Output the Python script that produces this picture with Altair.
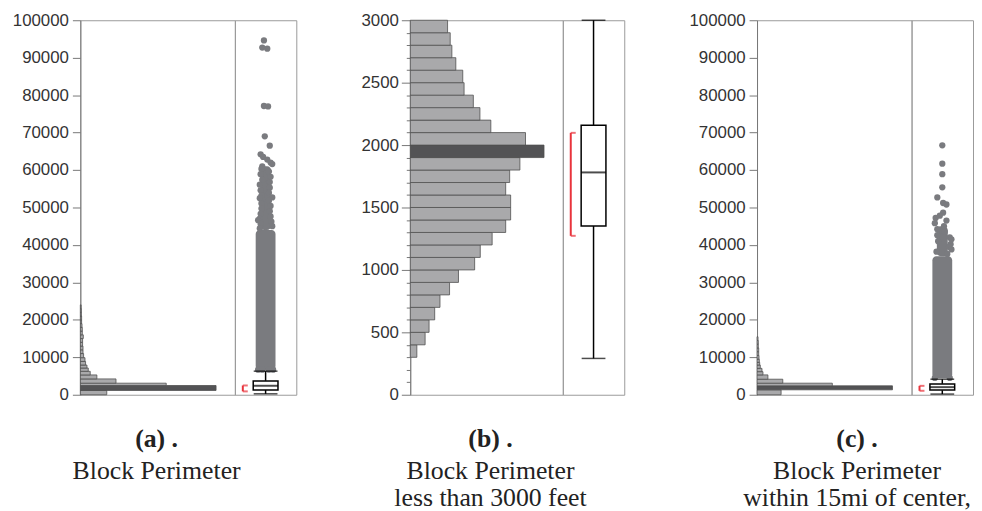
import altair as alt
import pandas as pd

# ---------------- data ----------------
# Panel (a): all blocks, histogram bins (feet) and bar lengths (relative counts)
a_lo = [0, 1150, 2470, 3090, 4230, 5290, 6260, 7140, 7940, 8900, 9900, 11000, 12000,
        13000, 14000, 15000, 16000, 17000, 18000, 19000, 20000, 21000, 22000, 23000]
a_hi = a_lo[1:] + [24000]
a_cnt = [267, 1370, 867, 360, 167, 100, 80, 67, 53, 47, 33, 27, 27, 23, 23, 30, 20, 20,
         17, 13, 13, 10, 10, 8]
a_sel = ["light", "dark"] + ["light"] * 22

# Panel (b): blocks < 3000 ft, bins of 100 ft
b_lo = list(range(300, 3000, 100))
b_hi = list(range(400, 3001, 100))
b_cnt = [20, 45, 57, 74, 90, 119, 146, 195, 212, 248, 289, 304, 304, 289, 301, 332,
         405, 349, 244, 211, 191, 163, 159, 138, 126, 121, 113]
b_sel = ["dark" if lo == 1900 else "light" for lo in b_lo]

# Panel (c): within 15 mi of center
c_lo = [0, 1320, 2380, 3090, 4150, 5300, 6170, 7050, 7940, 8650, 9500, 10500, 11500,
        12500, 13500, 14500]
c_hi = c_lo[1:] + [15500]
c_cnt = [243, 1367, 760, 260, 110, 60, 50, 33, 27, 23, 20, 17, 17, 13, 13, 10]
c_sel = ["light", "dark"] + ["light"] * 14

# Box plot summaries: lower whisker, q1, median, q3, upper whisker, shortest half
a_box = dict(lo=250, q1=1300, med=2400, q3=3700, hi=6300, sh_lo=900, sh_hi=2480)
b_box = dict(lo=291, q1=1352, med=1781, q3=2159, hi=3000, sh_lo=1273, sh_hi=2098)
c_box = dict(lo=180, q1=1240, med=2030, q3=2900, hi=4150, sh_lo=1060, sh_hi=2380)

# Outliers: dense runs (low, high) and individually visible points (value, horizontal spread)
a_dense = (6600, 44000)
a_core = (44000, 61000)
a_out_val = [94600, 92700, 92400, 77100, 77000, 69000, 66500, 64200, 63500, 62800, 62000,
             61600, 61000, 60300, 59600, 58900, 58200, 57400, 56800, 56100, 55300, 54600,
             53900, 53200, 52700, 52500, 51800, 51100, 50400, 49700, 49000, 48300, 47600,
             47000, 46600, 46200, 45600, 45000, 44400, 6700, 6700, 6700, 6700]
a_out_jit = [-2, -4, 2, -2, 3, -1, 5, -6, -3, 2, 6, 8, -4, -5, 4, -6, 6, -4, 5, -7, 5, -6,
             4, -5, 8, -7, 4, -5, 6, -5, 5, -6, 6, -7, -9, 7, -6, 8, -7, -9, 9, -4, 4]

c_dense = (4400, 37000)
c_core = (37000, 45000)
c_out_val = [66600, 61700, 58900, 55400, 52700, 51200, 50800, 48600, 47800, 47200, 46500,
             45800, 45000, 44200, 43500, 42600, 42000, 41500, 41000, 40200, 39500, 38800,
             38200, 37600, 4500, 4500]
c_out_jit = [0, 0, 0, 0, -6, 1, 5, 1, -3, -8, 5, -9, 2, -6, 3, -6, 9, 11, -5, 10, 8, 11,
             -7, 6, -9, 9]

titles = [("(a) .", ["Block Perimeter"]),
          ("(b) .", ["Block Perimeter", "less than 3000 feet"]),
          ("(c) .", ["Block Perimeter", "within 15mi of center,"])]

# ---------------- styling ----------------
H = 378
GRAY_DOT = "#7a7b7f"
RED = "#e8333c"
LABEL_FONT = "Liberation Sans"
SERIF = "Liberation Serif"


def big_axis():
    return alt.Axis(values=list(range(0, 100001, 10000)), format="d", tickSize=8,
                    labelPadding=4, domainColor="#777", tickColor="#777",
                    labelFont=LABEL_FONT, labelFontSize=17, labelColor="#333",
                    grid=False, title=None)


def small_axis():
    return alt.Axis(values=list(range(0, 3001, 100)), format="d",
                    tickSize={"condition": {"test": "datum.value % 500 === 0", "value": 9},
                              "value": 4},
                    labelExpr="datum.value % 500 === 0 ? datum.label : ''",
                    labelPadding=3, domainColor="#777", tickColor="#777",
                    labelFont=LABEL_FONT, labelFontSize=17, labelColor="#333",
                    grid=False, title=None)


def hist_chart(lo, hi, cnt, sel, ymax, xmax, width, axis, title, dx):
    df = pd.DataFrame({"lo": lo, "hi": hi, "count": cnt, "sel": sel})
    return alt.Chart(df).mark_bar(stroke="#505050", strokeWidth=0.8).encode(
        y=alt.Y("lo:Q", scale=alt.Scale(domain=[0, ymax], nice=False), axis=axis),
        y2="hi:Q",
        x=alt.X("count:Q", scale=alt.Scale(domain=[0, xmax], nice=False), axis=None),
        x2=alt.X2(datum=0),
        color=alt.Color("sel:N", scale=alt.Scale(domain=["light", "dark"],
                                                 range=["#a9a9ab", "#535355"]),
                        legend=None),
    ).properties(
        width=width, height=H,
        title=alt.TitleParams(text=title[0], subtitle=title[1], orient="bottom",
                              anchor="middle", frame="group", dx=dx, offset=24,
                              font=SERIF, fontSize=26, fontWeight="bold", color="#222",
                              subtitleFont=SERIF, subtitleFontSize=26,
                              subtitleColor="#222", subtitlePadding=6,
                              subtitleLineHeight=27),
    )


def box_chart(st, ymax, dense=None, core=None, out_val=None, out_jit=None):
    ysc = alt.Scale(domain=[0, ymax], nice=False)
    xsc = alt.Scale(domain=[-31, 31], nice=False)
    X0 = alt.X(datum=0, type="quantitative", scale=xsc, axis=None)
    base = alt.Chart(pd.DataFrame([st]))
    layers = []
    if dense is not None:
        ddf = pd.DataFrame({"lo": [dense[0]], "hi": [dense[1]]})
        cdf = pd.DataFrame({"lo": [core[0]], "hi": [core[1]]})
        layers.append(alt.Chart(ddf).mark_bar(size=20, color=GRAY_DOT, cornerRadius=4).encode(
            x=X0, y=alt.Y("lo:Q", scale=ysc, axis=None), y2="hi:Q"))
        layers.append(alt.Chart(cdf).mark_bar(size=11, color=GRAY_DOT, cornerRadius=4).encode(
            x=X0, y=alt.Y("lo:Q", scale=ysc, axis=None), y2="hi:Q"))
        odf = pd.DataFrame({"val": out_val, "jit": out_jit})
        layers.append(alt.Chart(odf).mark_circle(size=40, color=GRAY_DOT, opacity=1).encode(
            x=alt.X("jit:Q", scale=xsc, axis=None),
            y=alt.Y("val:Q", scale=ysc, axis=None)))
    yq = lambda f: alt.Y(f + ":Q", scale=ysc, axis=None)
    layers += [
        base.mark_rule(color="black", strokeWidth=1.5).encode(x=X0, y=yq("q3"), y2="hi:Q"),
        base.mark_rule(color="black", strokeWidth=1.5).encode(x=X0, y=yq("lo"), y2="q1:Q"),
        base.mark_bar(size=25, fill="white", stroke="black", strokeWidth=1.5).encode(
            x=X0, y=yq("q1"), y2="q3:Q"),
        base.mark_tick(orient="horizontal", size=25, thickness=2, color="black").encode(
            x=X0, y=yq("med")),
        base.mark_tick(orient="horizontal", size=24, thickness=1.5, color="black").encode(
            x=X0, y=yq("hi")),
        base.mark_tick(orient="horizontal", size=24, thickness=1.5, color="black").encode(
            x=X0, y=yq("lo")),
        base.mark_rule(color=RED, strokeWidth=2, xOffset=-23).encode(
            x=X0, y=yq("sh_lo"), y2="sh_hi:Q"),
        base.mark_tick(orient="horizontal", size=5, thickness=2, color=RED,
                       xOffset=-20.5).encode(x=X0, y=yq("sh_lo")),
        base.mark_tick(orient="horizontal", size=5, thickness=2, color=RED,
                       xOffset=-20.5).encode(x=X0, y=yq("sh_hi")),
    ]
    return alt.layer(*layers).properties(width=62, height=H)


pa = alt.hconcat(
    hist_chart(a_lo, a_hi, a_cnt, a_sel, 100000, 1560, 156, big_axis(), titles[0], -1),
    box_chart(a_box, 100000, a_dense, a_core, a_out_val, a_out_jit),
    spacing=0, bounds="flush")
pb = alt.hconcat(
    hist_chart(b_lo, b_hi, b_cnt, b_sel, 3000, 462, 154, small_axis(), titles[1], 4),
    box_chart(b_box, 3000),
    spacing=0, bounds="flush")
pc = alt.hconcat(
    hist_chart(c_lo, c_hi, c_cnt, c_sel, 100000, 1560, 156, big_axis(), titles[2], 23),
    box_chart(c_box, 100000, c_dense, c_core, c_out_val, c_out_jit),
    spacing=0, bounds="flush")

chart = alt.hconcat(pa, pb, pc, spacing=63).properties(
    padding={"left": 3, "top": 0, "right": 0, "bottom": 0}
).configure_view(stroke="#9a9a9a", strokeWidth=1)

chart.save("out.html", embed_options={"renderer": "svg", "actions": False})
